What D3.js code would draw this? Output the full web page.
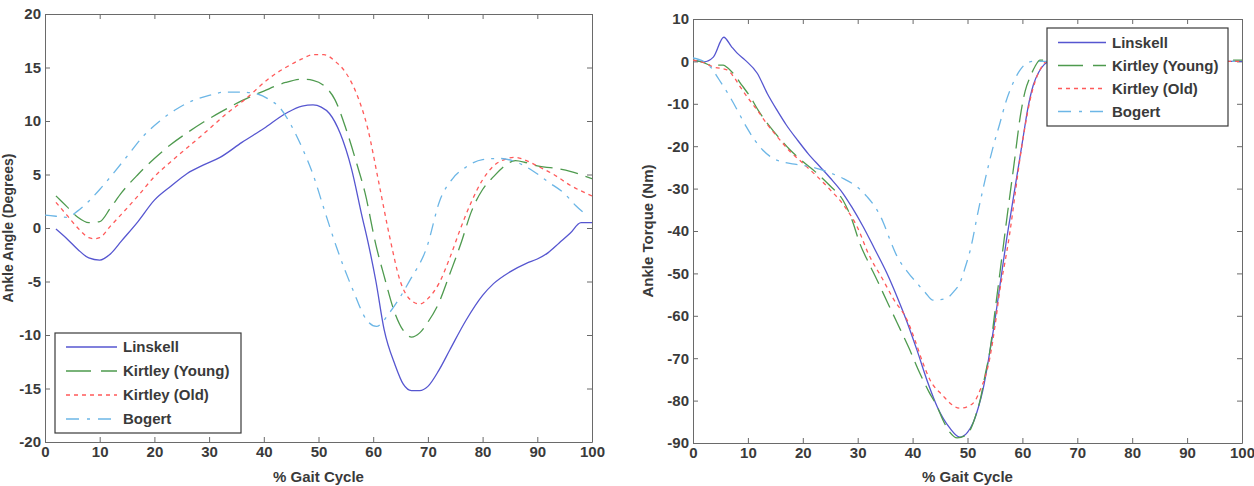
<!DOCTYPE html>
<html>
<head>
<meta charset="utf-8">
<script src="https://cdn.jsdelivr.net/npm/d3@7"></script>
<style>
  body { margin: 0; background: #fff; }
  svg { display: block; font-family: "Liberation Sans", Arial, sans-serif; }
</style>
</head>
<body>
<div id="chart"></div>
<script>
// series names (legend order)
const seriesNames = ["Linskell", "Kirtley (Young)", "Kirtley (Old)", "Bogert"];

// x ticks (% gait cycle)
const gaitTicks = d3.range(0, 101, 10);

// ---- ankle angle (degrees) ----
const angleTicks = [-20, -15, -10, -5, 0, 5, 10, 15, 20];
const angleLinskell = [[2,-0.1],[4,-1.0],[6,-2.0],[8,-2.8],[10,-3.0],[12,-2.4],[14,-1.2],[17,0.6],[20,2.6],[23,3.9],[26,5.1],[29,5.9],[32,6.6],[36,8.0],[40,9.3],[44,10.7],[47,11.4],[49,11.5],[50.5,11.3],[52,10.7],[54,8.8],[56,5.6],[58,1.0],[59,-1.2],[60.5,-5.0],[62,-9.5],[64,-12.8],[65.5,-14.6],[67,-15.2],[68.5,-15.2],[70,-14.8],[72,-13.3],[74,-11.4],[77,-8.6],[80,-6.3],[82,-5.2],[85,-4.1],[88,-3.3],[90,-2.9],[92,-2.3],[94,-1.4],[96,-0.5],[98,0.5],[100,0.5]];
const angleYoung = [[2,3.0],[4,2.0],[6,1.0],[8,0.5],[10,0.6],[12,1.9],[14,3.3],[17,5.0],[20,6.5],[23,7.8],[26,8.9],[29,9.9],[32,10.8],[36,11.9],[40,12.8],[44,13.6],[47,13.9],[49,13.8],[51,13.3],[53,12.0],[55,9.3],[57,6.0],[58.5,3.3],[60.5,-1.6],[62,-4.5],[64,-8.0],[66,-9.9],[67,-10.2],[68.5,-9.8],[70,-8.8],[72,-7.0],[74,-4.3],[76,-1.5],[78,1.6],[80,3.6],[82,4.8],[84,5.8],[86,6.3],[88,6.1],[90,5.8],[93,5.6],[96,5.3],[100,4.6]];
const angleOld = [[2,2.4],[4,1.2],[6,0.0],[8,-0.9],[9,-1.0],[10,-0.9],[12,0.2],[14,1.3],[17,3.0],[20,4.8],[23,6.2],[26,7.5],[29,8.8],[33,10.6],[37,12.2],[41,14.0],[44,15.0],[47,15.8],[49,16.2],[51,16.2],[53,15.6],[55,14.5],[57,12.5],[59,9.3],[61,4.3],[63,-0.8],[64.9,-4.9],[67,-6.8],[68.5,-7.1],[70,-6.6],[72,-5.2],[74,-2.8],[76,0.0],[78,2.5],[80,4.5],[82,5.8],[84,6.4],[86,6.6],[88,6.3],[90,5.8],[93,5.0],[96,4.0],[100,3.0]];
const angleBogert = [[0,1.2],[2,1.1],[4,1.0],[6,1.6],[8,2.5],[10,3.6],[12,4.8],[15,6.7],[18,8.6],[21,10.0],[24,11.1],[27,11.9],[30,12.4],[33,12.7],[36,12.7],[39,12.5],[41,12.0],[43,11.2],[45,9.6],[47,7.5],[49,5.0],[51,1.8],[53.3,-1.8],[56.3,-5.8],[58.8,-8.6],[60.6,-9.2],[63,-7.9],[66.7,-4.9],[69.8,-1.8],[72.2,2.6],[74.5,4.6],[77,5.7],[80,6.4],[83,6.5],[86,6.2],[89,5.4],[92,4.3],[95,3.2],[97,2.1],[99,1.2]];

// ---- ankle torque (Nm) ----
const torqueTicks = d3.range(-90, 11, 10);
const torqueLinskell = [[0,0.3],[2,-0.1],[3.7,1.0],[5.6,5.7],[7,3.5],[8,2.0],[9.5,0.3],[11.7,-2.8],[13.5,-7.5],[15.3,-11.5],[17,-15],[19,-18.5],[21,-21.8],[23.1,-24.8],[25,-27.5],[27.3,-31.1],[29,-34.5],[31,-39],[33,-44],[35.3,-49.9],[37.2,-55.6],[39,-61.5],[40.8,-68.1],[42.7,-75.5],[44.5,-81.5],[46.8,-86.5],[48.6,-88.6],[50,-87.5],[51,-85.3],[52,-81.5],[52.8,-77.5],[54,-69],[55,-61],[56,-52],[57,-43],[58,-35],[59,-27],[60,-19],[61,-11],[62,-5.5],[63,-2.5],[64,-0.7],[65,0],[100,0]];
const torqueYoung = [[0,0.3],[2,-0.3],[3.1,-0.9],[5.5,-0.9],[6.3,-1.5],[7.3,-2.8],[9,-5.8],[10.4,-8.3],[12,-11.8],[14,-15.4],[16,-18.5],[17.7,-20.9],[20,-23.6],[22.6,-26.4],[25,-29.4],[27.3,-32.7],[29,-37.5],[30.4,-43],[32,-47.5],[33.5,-51.5],[35.3,-56.5],[37.2,-61.7],[39.3,-67.5],[41.3,-73.5],[43,-78],[44.5,-81.5],[45.5,-84.5],[46.8,-87.5],[48.1,-88.8],[49.5,-88.3],[50.5,-86.9],[51.5,-83.5],[52.3,-79.9],[53.2,-74],[54.1,-68.1],[55,-59],[55.9,-49.9],[57.2,-36.7],[58.5,-24],[59.6,-13.1],[60.5,-7],[61.4,-3.7],[62.3,-1.2],[63.2,0.3],[65,0.3],[100,0.3]];
const torqueOld = [[0,0.3],[2,-0.3],[3.7,-1.3],[6.2,-2.0],[7.5,-3.8],[8.6,-6.0],[10,-8.6],[11.7,-11.5],[13.5,-14.8],[15.3,-17.7],[17.5,-21],[20,-24.0],[22.5,-27],[25,-30.3],[27.5,-34],[29.9,-39.0],[32,-45.5],[34.6,-51.5],[36.5,-56],[39,-61.0],[40.5,-66],[41.9,-71.2],[43.2,-75.2],[45.5,-78.8],[47,-80.8],[48.6,-81.8],[50.5,-81.1],[51.5,-79.8],[52.3,-77.5],[53.2,-74.5],[54.1,-69.7],[55,-62.5],[55.9,-53.9],[56.8,-47.5],[57.7,-40.5],[58.7,-31],[59.6,-22.5],[60.5,-15.2],[61.4,-9.1],[62.3,-4.8],[63.2,-2.0],[64.5,0],[100,0]];
const torqueBogert = [[0,0.8],[2.4,-0.4],[3.5,-1.8],[4.4,-3.6],[5.5,-5.8],[6.7,-8.3],[8.2,-11.8],[9.7,-15.4],[11.2,-18.5],[12.7,-20.9],[14.5,-22.8],[16.3,-23.7],[18.8,-24.3],[21.3,-24.8],[23,-25.4],[25,-26.3],[27.5,-27.7],[29.9,-29.6],[31.7,-31.9],[33.3,-34.6],[34.6,-37.8],[35.8,-41.8],[37.1,-45.8],[39,-49.5],[40.8,-52.3],[42.3,-54.5],[43.7,-56.3],[45,-56.2],[46.3,-55.8],[47.5,-54.3],[48.6,-52.3],[49.6,-48.5],[50.5,-44.5],[52,-35],[53.5,-26.3],[54.7,-20],[55.9,-14.6],[57,-9.5],[58.3,-5.1],[59.5,-2.2],[60.8,-0.4],[62,0],[100,0]];

// line styles, same order as seriesNames
const lineColors = ["#5656d0", "#4e9a4e", "#ff5a5a", "#6cb6e6"];
const lineDash = [null, "18,8", "4,4", "12,7,3,7"];
const legendDash = [null, "25,10", "4,4", "13,8,3,8"];

var width = 1254, height = 486;
var svg = d3.select("#chart").append("svg")
    .attr("width", width)
    .attr("height", height);

const fmt = d => String(d);
const textColor = "#3a3a3a";

function drawPanel(p, idx) {
    var x = d3.scaleLinear().domain([0, 100]).range([p.left, p.right]);
    var y = d3.scaleLinear().domain(p.yDomain).range([p.bottom, p.top]);

    var g = svg.append("g");

    g.append("clipPath").attr("id", "clip" + idx)
      .append("rect")
        .attr("x", p.left).attr("y", p.top)
        .attr("width", p.right - p.left).attr("height", p.bottom - p.top);

    // axes, ticks pointing inward like matlab
    const axes = [
        [d3.axisBottom(x).tickValues(gaitTicks).tickFormat(fmt), 0, p.bottom],
        [d3.axisTop(x).tickValues(gaitTicks).tickFormat(""), 0, p.top],
        [d3.axisLeft(y).tickValues(p.yTicks).tickFormat(fmt), p.left, 0],
        [d3.axisRight(y).tickValues(p.yTicks).tickFormat(""), p.right, 0]
    ];
    axes.forEach(a => {
        var ax = g.append("g")
            .attr("transform", `translate(${a[1]},${a[2]})`)
            .call(a[0].tickSizeInner(-5).tickSizeOuter(0).tickPadding(4));
        ax.select(".domain").attr("stroke", "#6a6a6a");
        ax.selectAll(".tick line").attr("stroke", "#6a6a6a");
        ax.selectAll(".tick text")
            .attr("fill", textColor)
            .style("font-size", "15px")
            .style("font-weight", "bold")
            .style("font-family", "'Liberation Sans', Arial, sans-serif");
    });

    // curves
    var line = d3.line()
        .x(d => x(d[0]))
        .y(d => y(d[1]))
        .curve(d3.curveMonotoneX);

    g.append("g").attr("clip-path", `url(#clip${idx})`)
      .selectAll("path")
      .data(p.series)
      .join("path")
        .attr("d", line)
        .attr("fill", "none")
        .attr("stroke", (d, i) => lineColors[i])
        .attr("stroke-width", 1.3)
        .attr("stroke-dasharray", (d, i) => lineDash[i]);

    // axis titles
    g.append("text")
        .attr("x", (p.left + p.right) / 2)
        .attr("y", 482)
        .attr("text-anchor", "middle")
        .attr("fill", textColor)
        .style("font-size", "15px")
        .style("font-weight", "bold")
        .text("% Gait Cycle");

    g.append("text")
        .attr("transform", `translate(${p.ylabelX},${(p.top + p.bottom) / 2}) rotate(-90)`)
        .attr("text-anchor", "middle")
        .attr("fill", textColor)
        .style("font-size", p.ylabelSize)
        .style("font-weight", "bold")
        .text(p.ylabel);

    // legend
    var L = p.legend;
    var lg = g.append("g");
    lg.append("rect")
        .attr("x", L.x).attr("y", L.y)
        .attr("width", L.w).attr("height", L.h)
        .attr("fill", "#fff")
        .attr("stroke", "#3a3a3a")
        .attr("stroke-width", 1.2);

    var item = lg.selectAll("g.item")
        .data(seriesNames)
        .join("g")
        .attr("class", "item")
        .attr("transform", (d, i) => `translate(${L.x},${L.y + L.first + i * L.step})`);

    item.append("line")
        .attr("x1", 11).attr("x2", 11 + L.sample)
        .attr("y1", 0).attr("y2", 0)
        .attr("stroke", (d, i) => lineColors[i])
        .attr("stroke-width", 1.3)
        .attr("stroke-dasharray", (d, i) => legendDash[i]);

    item.append("text")
        .attr("x", 17 + L.sample)
        .attr("dy", "0.35em")
        .attr("fill", textColor)
        .style("font-size", "15px")
        .style("font-weight", "bold")
        .text(d => d);
}

const panels = [
    {
        left: 45, right: 592, top: 14, bottom: 442,
        yDomain: [-20, 20], yTicks: angleTicks,
        ylabel: "Ankle Angle (Degrees)", ylabelX: 13, ylabelSize: "14px",
        series: [angleLinskell, angleYoung, angleOld, angleBogert],
        legend: {x: 55, y: 333, w: 186, h: 100, first: 14, step: 24, sample: 51}
    },
    {
        left: 693, right: 1242, top: 19, bottom: 443,
        yDomain: [-90, 10], yTicks: torqueTicks,
        ylabel: "Ankle Torque (Nm)", ylabelX: 653, ylabelSize: "15px",
        series: [torqueLinskell, torqueYoung, torqueOld, torqueBogert],
        legend: {x: 1047, y: 28, w: 181, h: 98, first: 14.5, step: 23, sample: 48}
    }
];

panels.forEach((p, i) => drawPanel(p, i));
</script>
</body>
</html>
